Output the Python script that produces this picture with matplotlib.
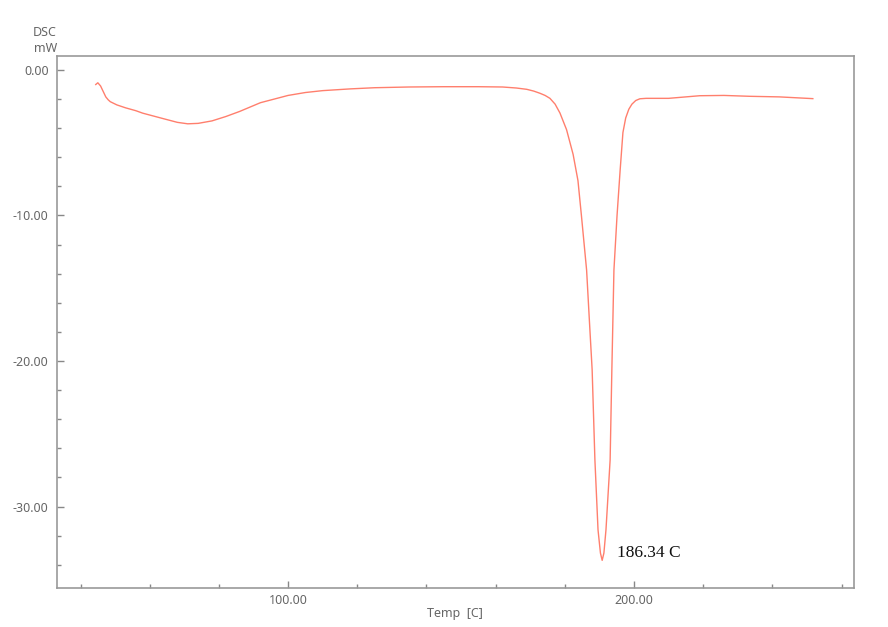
import matplotlib
matplotlib.use("Agg")
from matplotlib import pyplot as plt
from matplotlib.ticker import MultipleLocator, FormatStrFormatter

# DSC trace
temp = [44.4, 45.0, 45.8, 46.6, 47.3, 48.0, 48.6, 50.5, 53, 56, 58, 64, 68, 71, 74, 78, 82,
        86, 90, 92, 96, 100, 105, 110, 118, 125, 135, 145, 155, 162, 166, 169, 171, 172.8,
        174.3, 175.7, 177.2, 178.6, 180.5, 182.4, 183.8, 184.8, 186.3, 187.1, 187.9, 188.7,
        189.6, 190.3, 190.8, 191.3, 191.9, 193.1, 193.6, 194.2, 195.1, 196.0, 196.8, 197.6,
        198.5, 199.4, 200.5, 201.7, 203.5, 206, 210, 219, 226, 233.5, 242, 251.7]
dsc = [-1.0, -0.88, -1.1, -1.5, -1.85, -2.05, -2.18, -2.4, -2.6, -2.8, -2.97, -3.35, -3.6,
       -3.7, -3.67, -3.5, -3.2, -2.85, -2.45, -2.25, -2.0, -1.75, -1.55, -1.42, -1.3, -1.22,
       -1.17, -1.15, -1.15, -1.17, -1.24, -1.33, -1.45, -1.6, -1.75, -1.95, -2.35, -2.96,
       -4.1, -5.8, -7.6, -10.0, -13.75, -17.2, -20.6, -26.8, -31.6, -33.2, -33.7, -33.2,
       -31.6, -26.8, -20.6, -13.75, -10.0, -6.87, -4.3, -3.3, -2.7, -2.35, -2.1, -1.98,
       -1.95, -1.95, -1.95, -1.77, -1.75, -1.81, -1.85, -1.97]

peak_label = "186.34 C"
peak_pos = (195.1, -33.2)

grey = "#666666"
plt.rcParams['font.family'] = ['Noto Sans', 'DejaVu Sans']

fig = plt.figure(figsize=(8.88, 6.27), dpi=100)
ax = fig.add_axes([57/888, 1 - 588/627, (854 - 57)/888, (588 - 56)/627])

ax.plot(temp, dsc, color="#ff7f6d", lw=1.0)
ax.text(peak_pos[0], peak_pos[1], peak_label, family="Liberation Serif", fontsize=12.5,
        color="#111111", ha="left", va="center")

ax.set_xlim(33.2, 263.6)
ax.set_ylim(-35.6, 0.96)

ax.xaxis.set_major_locator(MultipleLocator(100))
ax.xaxis.set_minor_locator(MultipleLocator(20))
ax.yaxis.set_major_locator(MultipleLocator(10))
ax.yaxis.set_minor_locator(MultipleLocator(2))
ax.xaxis.set_major_formatter(FormatStrFormatter('%.2f'))
ax.yaxis.set_major_formatter(FormatStrFormatter('%.2f'))

ax.tick_params(which='both', direction='in', colors="#888888", labelcolor=grey, labelsize=9)
ax.tick_params(which='major', length=5, width=1)
ax.tick_params(which='minor', length=3, width=1)
ax.tick_params(axis='y', pad=6)
ax.tick_params(axis='x', pad=4)
for s in ax.spines.values():
    s.set_color("#999999")
    s.set_linewidth(1.2)

fig.text(455/888, 1 - 613/627, "Temp  [C]", ha="center", va="center", fontsize=9, color=grey)
fig.text(57/888, 1 - 32/627, "DSC", ha="right", va="center", fontsize=9, color=grey)
fig.text(57/888, 1 - 48/627, "mW", ha="right", va="center", fontsize=9, color=grey)

fig.savefig("out.png", dpi=100, facecolor="white")
